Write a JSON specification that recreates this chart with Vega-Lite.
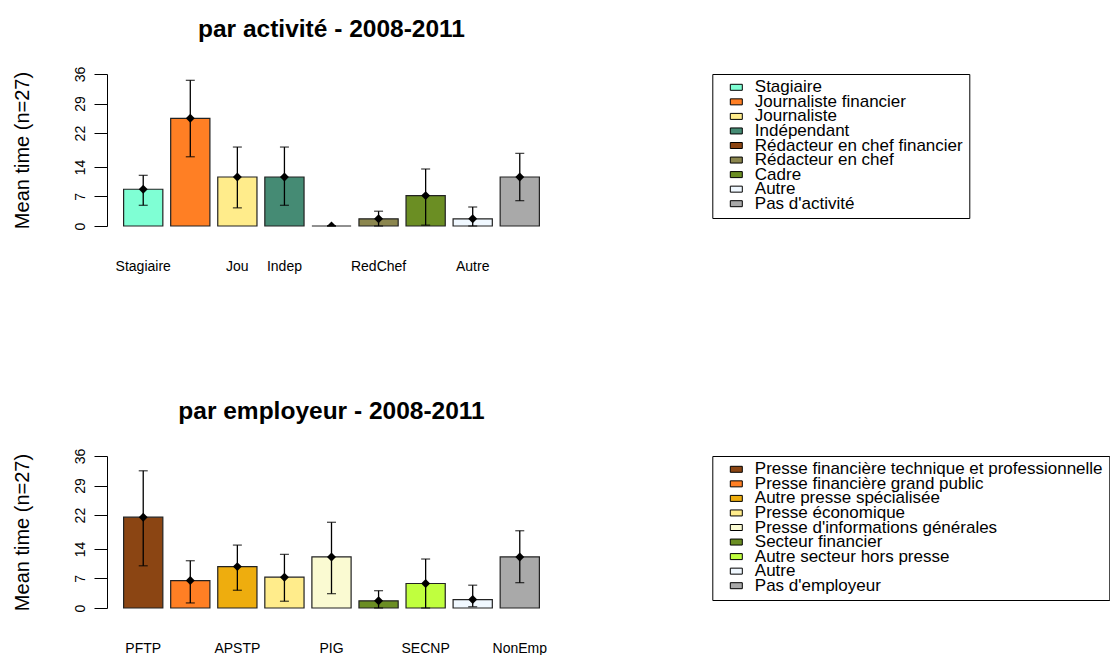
{
  "$schema": "https://vega.github.io/schema/vega-lite/v6.json",
  "padding": {"left": 12, "top": 16, "right": 0, "bottom": 0},
  "bounds": "flush",
  "spacing": 230,
  "config": {
    "font": "Liberation Sans",
    "view": {"stroke": null},
    "axis": {"grid": false, "labelColor": "black", "titleColor": "black", "labelFont": "Liberation Sans", "titleFont": "Liberation Sans"},
    "axisY": {"labelOverlap": false, "labelFlush": false, "tickCount": 6},
    "title": {"font": "Liberation Sans", "color": "black"}
  },
  "resolve": {"scale": {"color": "independent", "x": "independent", "y": "independent"}, "legend": {"color": "independent"}},
  "vconcat": [
    {
      "width": 449,
      "height": 152,
      "title": {"text": "par activité - 2008-2011", "fontSize": 24.5, "fontWeight": "bold", "anchor": "middle", "baseline": "bottom", "offset": 0},
      "data": {"values": [
        {"cat": "Stagiaire", "mean": 8.7, "lo": 4.9, "hi": 12.0},
        {"cat": "Journaliste financier", "mean": 25.5, "lo": 16.4, "hi": 34.5},
        {"cat": "Journaliste", "mean": 11.6, "lo": 4.3, "hi": 18.7},
        {"cat": "Indépendant", "mean": 11.6, "lo": 4.9, "hi": 18.7},
        {"cat": "Rédacteur en chef financier", "mean": 0, "lo": 0, "hi": 0},
        {"cat": "Rédacteur en chef", "mean": 1.7, "lo": 0, "hi": 3.5},
        {"cat": "Cadre", "mean": 7.2, "lo": 0.2, "hi": 13.5},
        {"cat": "Autre", "mean": 1.7, "lo": 0, "hi": 4.5},
        {"cat": "Pas d'activité", "mean": 11.6, "lo": 6.0, "hi": 17.2}
      ]},
      "encoding": {
        "x": {"field": "cat", "type": "nominal", "sort": null,
          "scale": {"paddingInner": 0.1667, "paddingOuter": 0.353},
          "axis": {"title": null, "domain": false, "ticks": false, "labelAngle": 0, "labelFontSize": 14, "labelPadding": 33, "labelLimit": 200, "labelOverlap": false,
            "labelExpr": "datum.value == 'Stagiaire' ? 'Stagiaire' : datum.value == 'Journaliste' ? 'Jou' : datum.value == 'Indépendant' ? 'Indep' : datum.value == 'Rédacteur en chef' ? 'RedChef' : datum.value == 'Autre' ? 'Autre' : ''"}}
      },
      "layer": [
        {
          "mark": {"type": "bar", "stroke": "#222222", "strokeWidth": 1.2},
          "encoding": {
            "y": {"field": "mean", "type": "quantitative", "title": "Mean time (n=27)",
              "scale": {"domain": [0, 36], "nice": false, "zero": true},
              "axis": {"values": [0, 7, 14, 22, 29, 36], "tickCount": 6, "labelOverlap": false, "tickSize": 13, "tickColor": "black", "domainColor": "black", "labelAngle": 270, "labelAlign": "center", "labelBaseline": "bottom", "labelFontSize": 14, "labelPadding": 7, "titleFontSize": 20, "titleFontWeight": "normal", "titleX": -84.7, "titleY": 76, "titleAngle": 270, "titleAlign": "center", "titleBaseline": "middle"}},
            "color": {"field": "cat", "type": "nominal", "sort": null,
              "scale": {"domain": ["Stagiaire", "Journaliste financier", "Journaliste", "Indépendant", "Rédacteur en chef financier", "Rédacteur en chef", "Cadre", "Autre", "Pas d'activité"],
                "range": ["#7FFFD4", "#FF7F24", "#FFEC8B", "#458B74", "#8B4513", "#8B864E", "#6B8E23", "#F0F8FF", "#A9A9A9"]},
              "legend": {"title": null, "orient": "none", "legendX": 605.3, "legendY": 0, "symbolType": "M-1,-0.5H1V0.5H-1Z", "symbolSize": 144, "symbolStrokeColor": "black", "symbolStrokeWidth": 1, "labelFontSize": 17, "labelFont": "Liberation Sans", "labelColor": "black", "padding": 6, "strokeColor": "black", "fillColor": "white", "cornerRadius": 0, "rowPadding": -3.45, "clipHeight": 14.6, "gridAlign": "none", "symbolOffset": 9.5, "labelOffset": 10, "labelLimit": 600}}
          }
        },
        {
          "mark": {"type": "rule", "color": "black", "strokeWidth": 1.3},
          "encoding": {"y": {"field": "lo", "type": "quantitative", "title": "Mean time (n=27)"}, "y2": {"field": "hi"}}
        },
        {
          "mark": {"type": "tick", "color": "black", "thickness": 1.3, "size": 9, "orient": "horizontal"},
          "encoding": {"y": {"field": "hi", "type": "quantitative", "title": "Mean time (n=27)"}}
        },
        {
          "mark": {"type": "tick", "color": "black", "thickness": 1.3, "size": 9, "orient": "horizontal"},
          "encoding": {"y": {"field": "lo", "type": "quantitative", "title": "Mean time (n=27)"}}
        },
        {
          "mark": {"type": "point", "shape": "diamond", "filled": true, "color": "black", "size": 80, "opacity": 1, "clip": true},
          "encoding": {"y": {"field": "mean", "type": "quantitative", "title": "Mean time (n=27)"}}
        }
      ]
    },
    {
      "width": 449,
      "height": 152,
      "title": {"text": "par employeur - 2008-2011", "fontSize": 24.5, "fontWeight": "bold", "anchor": "middle", "baseline": "bottom", "offset": 0},
      "data": {"values": [
        {"cat": "Presse financière technique et professionnelle", "mean": 21.5, "lo": 10.0, "hi": 32.5},
        {"cat": "Presse financière grand public", "mean": 6.5, "lo": 1.2, "hi": 11.2},
        {"cat": "Autre presse spécialisée", "mean": 9.8, "lo": 4.2, "hi": 14.9},
        {"cat": "Presse économique", "mean": 7.3, "lo": 1.6, "hi": 12.7},
        {"cat": "Presse d'informations générales", "mean": 12.1, "lo": 3.4, "hi": 20.3},
        {"cat": "Secteur financier", "mean": 1.7, "lo": 0, "hi": 4.1},
        {"cat": "Autre secteur hors presse", "mean": 5.8, "lo": 0, "hi": 11.6},
        {"cat": "Autre", "mean": 2.0, "lo": 0.3, "hi": 5.4},
        {"cat": "Pas d'employeur", "mean": 12.1, "lo": 6.0, "hi": 18.3}
      ]},
      "encoding": {
        "x": {"field": "cat", "type": "nominal", "sort": null,
          "scale": {"paddingInner": 0.1667, "paddingOuter": 0.353},
          "axis": {"title": null, "domain": false, "ticks": false, "labelAngle": 0, "labelFontSize": 14, "labelPadding": 33, "labelLimit": 200, "labelOverlap": false,
            "labelExpr": "datum.value == 'Presse financière technique et professionnelle' ? 'PFTP' : datum.value == 'Autre presse spécialisée' ? 'APSTP' : datum.value == \"Presse d'informations générales\" ? 'PIG' : datum.value == 'Autre secteur hors presse' ? 'SECNP' : datum.value == \"Pas d'employeur\" ? 'NonEmp' : ''"}}
      },
      "layer": [
        {
          "mark": {"type": "bar", "stroke": "#222222", "strokeWidth": 1.2},
          "encoding": {
            "y": {"field": "mean", "type": "quantitative", "title": "Mean time (n=27)",
              "scale": {"domain": [0, 36], "nice": false, "zero": true},
              "axis": {"values": [0, 7, 14, 22, 29, 36], "tickCount": 6, "labelOverlap": false, "tickSize": 13, "tickColor": "black", "domainColor": "black", "labelAngle": 270, "labelAlign": "center", "labelBaseline": "bottom", "labelFontSize": 14, "labelPadding": 7, "titleFontSize": 20, "titleFontWeight": "normal", "titleX": -84.7, "titleY": 76, "titleAngle": 270, "titleAlign": "center", "titleBaseline": "middle"}},
            "color": {"field": "cat", "type": "nominal", "sort": null,
              "scale": {"domain": ["Presse financière technique et professionnelle", "Presse financière grand public", "Autre presse spécialisée", "Presse économique", "Presse d'informations générales", "Secteur financier", "Autre secteur hors presse", "Autre", "Pas d'employeur"],
                "range": ["#8B4513", "#FF7F24", "#EEAD0E", "#FFEC8B", "#FAFAD2", "#6B8E23", "#C0FF3E", "#F0F8FF", "#A9A9A9"]},
              "legend": {"title": null, "orient": "none", "legendX": 605.3, "legendY": 0, "symbolType": "M-1,-0.5H1V0.5H-1Z", "symbolSize": 144, "symbolStrokeColor": "black", "symbolStrokeWidth": 1, "labelFontSize": 17, "labelFont": "Liberation Sans", "labelColor": "black", "padding": 6, "strokeColor": "black", "fillColor": "white", "cornerRadius": 0, "rowPadding": -3.45, "clipHeight": 14.6, "gridAlign": "none", "symbolOffset": 9.5, "labelOffset": 10, "labelLimit": 600}}
          }
        },
        {
          "mark": {"type": "rule", "color": "black", "strokeWidth": 1.3},
          "encoding": {"y": {"field": "lo", "type": "quantitative", "title": "Mean time (n=27)"}, "y2": {"field": "hi"}}
        },
        {
          "mark": {"type": "tick", "color": "black", "thickness": 1.3, "size": 9, "orient": "horizontal"},
          "encoding": {"y": {"field": "hi", "type": "quantitative", "title": "Mean time (n=27)"}}
        },
        {
          "mark": {"type": "tick", "color": "black", "thickness": 1.3, "size": 9, "orient": "horizontal"},
          "encoding": {"y": {"field": "lo", "type": "quantitative", "title": "Mean time (n=27)"}}
        },
        {
          "mark": {"type": "point", "shape": "diamond", "filled": true, "color": "black", "size": 80, "opacity": 1, "clip": true},
          "encoding": {"y": {"field": "mean", "type": "quantitative", "title": "Mean time (n=27)"}}
        }
      ]
    }
  ]
}
